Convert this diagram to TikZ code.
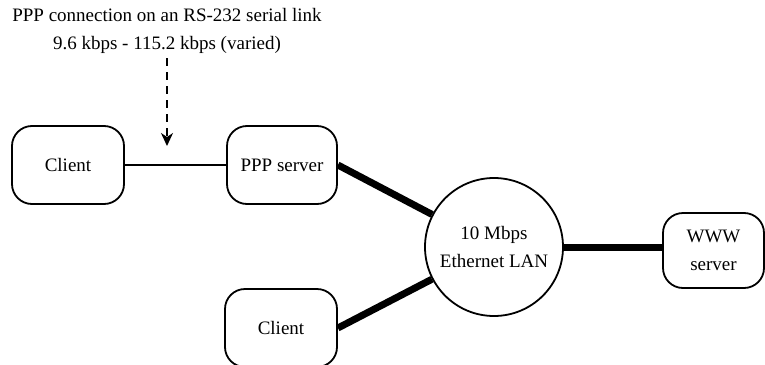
\documentclass[tikz,border=0pt]{standalone}
\usepackage{fontspec}
\setmainfont{Liberation Serif}
\usetikzlibrary{
    arrows.meta,
    positioning
}

\begin{document}
\begin{tikzpicture}[
    x=1pt, y=-1pt,
    font=\fontsize{19}{28}\selectfont,
    host/.style={
        rectangle,
        rounded corners=20pt,
        draw=black,
        line width=1.8pt,
        align=center,
        minimum height=78pt,
        minimum width=112pt
    },
    lan/.style={
        circle,
        draw=black,
        line width=1.8pt,
        align=center,
        inner sep=0pt,
        minimum size=138pt
    },
    note/.style={
        align=center,
        inner sep=0pt
    },
    serial/.style={line width=1.5pt},
    ether/.style={line width=7pt},
    pointer/.style={-{Stealth[length=13pt, width=12pt, inset=4pt]}, dash pattern=on 8pt off 6pt, line width=1.6pt}
]

\useasboundingbox (0,0) rectangle (765,364);

% ===== hosts =====
\node[host] (client) at (68,165) {Client};
\node[host, minimum width=110pt] (ppp) at (282,165) {PPP server};
\node[host] (client2) at (281,328) {Client};
\node[lan] (lan) at (494,247) {10 Mbps\\Ethernet LAN};
\node[host, minimum width=101pt, minimum height=75pt] (www) at (713.5,250.5) {WWW\\server};

% ===== links =====
\draw[serial] (client.east) -- (ppp.west);
\draw[ether] (ppp.east) -- (lan);
\draw[ether] (client2.east) -- (lan);
\draw[ether] (lan.east) -- (lan.east -| www.west);

% serial link note
\node[note] (rs) at (167,31) {PPP connection on an RS-232 serial link\\9.6 kbps - 115.2 kbps (varied)};
\coordinate (tip) at (167,146);
\draw[pointer] (167,58) -- (tip);

\end{tikzpicture}
\end{document}
